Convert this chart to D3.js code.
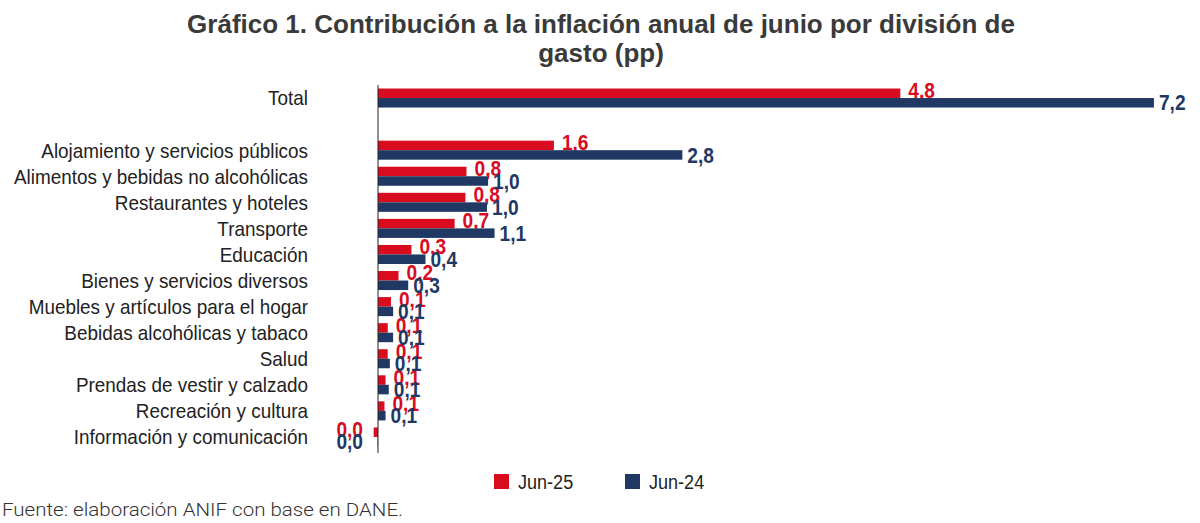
<!DOCTYPE html>
<html>
<head>
<meta charset="utf-8">
<script src="https://cdn.jsdelivr.net/npm/d3@7"></script>
<style>
  body { margin: 0; background: #fff; }
  svg { display: block; }
</style>
</head>
<body>
<div id="chart"></div>
<script>
var svgWidth = 1200;
var svgHeight = 523;

// categories, top to bottom (the empty one is the gap after Total)
var categories = [
  "Total",
  "",
  "Alojamiento y servicios públicos",
  "Alimentos y bebidas no alcohólicas",
  "Restaurantes y hoteles",
  "Transporte",
  "Educación",
  "Bienes y servicios diversos",
  "Muebles y artículos para el hogar",
  "Bebidas alcohólicas y tabaco",
  "Salud",
  "Prendas de vestir y calzado",
  "Recreación y cultura",
  "Información y comunicación"
];

// contribution in pp
var jun25 = [4.84, null, 1.63, 0.82, 0.81, 0.71, 0.31, 0.19, 0.12, 0.09, 0.09, 0.07, 0.06, -0.04];
var jun24 = [7.19, null, 2.82, 1.02, 1.01, 1.08, 0.44, 0.28, 0.14, 0.14, 0.11, 0.10, 0.07, -0.003];

var seriesNames = ["Jun-25", "Jun-24"];
var colors = ["#d90b1f", "#1f3864"];

var titleLines = [
  "Gráfico 1. Contribución a la inflación anual de junio por división de",
  "gasto (pp)"
];
var source = "Fuente: elaboración ANIF con base en DANE.";

var sans = "'Liberation Sans', Arial, sans-serif";

var svg = d3.select("#chart")
  .append("svg")
  .attr("width", svgWidth)
  .attr("height", svgHeight);

// title
svg.selectAll(".title")
  .data(titleLines).enter()
  .append("text")
  .attr("class", "title")
  .attr("x", 601)
  .attr("y", (d, i) => 33 + i * 29)
  .attr("text-anchor", "middle")
  .style("font-family", sans)
  .style("font-weight", "bold")
  .style("font-size", "26px")
  .style("fill", "#3a3a3a")
  .text(d => d);

var xScale = d3.scaleLinear()
  .domain([0, 7.2])
  .range([378, 1155]);

var yScale = d3.scaleBand()
  .domain(categories.map((d, i) => i))
  .range([85, 450])
  .paddingInner(0.27)
  .paddingOuter(0.135);

var barH = yScale.bandwidth() / 2;

var fmt = v => (Math.round(v * 10) / 10).toFixed(1).replace(".", ",");

// category labels (condensed look)
svg.append("g")
  .selectAll("text")
  .data(categories).enter()
  .append("text")
  .attr("transform", (d, i) => `translate(308, ${yScale(i) + yScale.bandwidth() / 2}) scale(0.9, 1)`)
  .attr("dy", "0.35em")
  .attr("text-anchor", "end")
  .style("font-family", sans)
  .style("font-size", "21px")
  .style("fill", "#222")
  .text(d => d);

var rows = categories.map((c, i) => ({ i: i, vals: [jun25[i], jun24[i]] }))
  .filter(r => r.vals[0] !== null);

var series = [0, 1];

series.forEach(function (s) {
  var g = svg.append("g");

  g.selectAll("rect")
    .data(rows).enter()
    .append("rect")
    .attr("x", d => xScale(Math.min(0, d.vals[s])))
    .attr("y", d => yScale(d.i) + s * barH)
    .attr("width", d => Math.abs(xScale(d.vals[s]) - xScale(0)))
    .attr("height", barH)
    .style("fill", colors[s]);

  g.selectAll("text")
    .data(rows).enter()
    .append("text")
    .attr("transform", function (d) {
      var x = d.vals[s] < 0 ? xScale(0) - 15 : xScale(d.vals[s]) + (s === 0 ? 8 : 5);
      var y = yScale(d.i) + s * barH + barH / 2 + (s === 0 ? -3 : 0);
      return `translate(${x}, ${y}) scale(0.87, 1)`;
    })
    .attr("dy", "0.35em")
    .attr("text-anchor", d => d.vals[s] < 0 ? "end" : "start")
    .style("font-family", sans)
    .style("font-weight", "bold")
    .style("font-size", "22px")
    .style("fill", colors[s])
    .text(d => fmt(d.vals[s]));
});

// vertical axis line
svg.append("line")
  .attr("x1", xScale(0))
  .attr("x2", xScale(0))
  .attr("y1", 85)
  .attr("y2", 453)
  .style("stroke", "#222")
  .style("stroke-width", 1);

// legend
var legend = svg.append("g")
  .selectAll("g")
  .data(seriesNames).enter()
  .append("g")
  .attr("transform", (d, i) => `translate(${494 + i * 131}, 474)`);

legend.append("rect")
  .attr("width", 15)
  .attr("height", 15)
  .style("fill", (d, i) => colors[i]);

legend.append("text")
  .attr("transform", "translate(24, 8) scale(0.86, 1)")
  .attr("dy", "0.35em")
  .style("font-family", sans)
  .style("font-size", "21px")
  .style("fill", "#222")
  .text(d => d);

// source
svg.append("text")
  .attr("x", 2)
  .attr("y", 516)
  .attr("textLength", 401)
  .attr("lengthAdjust", "spacingAndGlyphs")
  .style("font-family", "Roboto, 'Liberation Sans', sans-serif")
  .style("font-weight", 300)
  .style("font-size", "19px")
  .style("fill", "#333")
  .text(source);
</script>
</body>
</html>
